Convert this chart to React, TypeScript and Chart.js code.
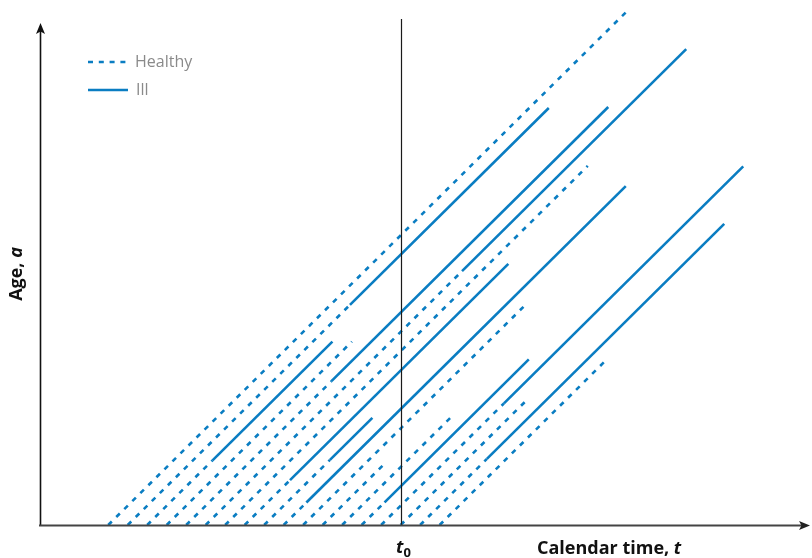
import React, { useEffect, useRef } from "react";
import { Chart, registerables } from "chart.js";

Chart.register(...registerables);

// Birth times (calendar time at age 0) of each life line
const births = [7, 9, 11, 13, 15, 17, 19, 21, 23, 25, 27, 29, 31, 33, 35, 37, 39, 41];
// Age at onset of illness (null = stayed healthy)
const onsetAges: (number | null)[] = [null, 22.8, 6.7, null, 14.9, 26.3, null, 4.65, 6.75, 2.33, null, null, null, 2.35, 12.6, null, 6.85, null];
// Age at end of follow-up
const endAges = [53.3, 43.2, 19.0, 19.0, 43.3, 49.3, 37.2, 27.05, 11.1, 35.1, 22.6, 6.45, 11.1, 17.15, 37.15, 13.05, 31.2, 16.95];

const t0Value = 37;
const xMin = 0;
const xMax = 79;
const yMin = 0;
const yMax = 52;

const legendLabels = ["Healthy", "Ill"];
const xTitleText = "Calendar time, ";
const xTitleVar = "t";
const yTitleText = "Age, ";
const yTitleVar = "a";
const t0Main = "t";
const t0Sub = "0";

const BLUE = "#0a7dc2";
const FONT = "'Open Sans', 'Noto Sans', sans-serif";

const DASH = [5, 6.3];

function buildDatasets() {
  const ds: any[] = [];
  births.forEach((b, i) => {
    const onset = onsetAges[i];
    const end = endAges[i];
    const healthyEnd = onset == null ? end : onset;
    ds.push({
      label: legendLabels[0],
      data: [
        { x: b, y: 0 },
        { x: b + healthyEnd, y: healthyEnd },
      ],
      borderColor: BLUE,
      borderWidth: 2.6,
      borderDash: DASH,
      borderCapStyle: "butt",
      showLine: true,
      pointRadius: 0,
      fill: false,
      clip: false,
    });
    if (onset != null) {
      ds.push({
        label: legendLabels[1],
        data: [
          { x: b + onset, y: onset },
          { x: b + end, y: end },
        ],
        borderColor: BLUE,
        borderWidth: 2.6,
        borderCapStyle: "butt",
        showLine: true,
        pointRadius: 0,
        fill: false,
        clip: false,
      });
    }
  });
  return ds;
}

const decorPlugin = {
  id: "decor",
  afterDatasetsDraw(chart: any) {
    const { ctx, chartArea: ca, scales } = chart;
    const xs = scales.x;
    ctx.save();

    // t0 vertical line
    const tx = Math.round(xs.getPixelForValue(t0Value)) + 0.5;
    ctx.strokeStyle = "#1a1a1a";
    ctx.lineWidth = 1.2;
    ctx.setLineDash([]);
    ctx.beginPath();
    ctx.moveTo(tx, ca.top - 4);
    ctx.lineTo(tx, ca.bottom);
    ctx.stroke();

    // y axis with arrow
    const ax = ca.left + 0.5;
    ctx.strokeStyle = "#111";
    ctx.fillStyle = "#111";
    ctx.lineWidth = 1.6;
    ctx.beginPath();
    ctx.moveTo(ax, ca.bottom);
    ctx.lineTo(ax, ca.top + 6);
    ctx.stroke();
    ctx.beginPath();
    ctx.moveTo(ax, ca.top);
    ctx.lineTo(ax - 4.5, ca.top + 11);
    ctx.lineTo(ax, ca.top + 8.5);
    ctx.lineTo(ax + 4.5, ca.top + 11);
    ctx.closePath();
    ctx.fill();

    // x axis with arrow
    const ay = ca.bottom + 0.5;
    ctx.strokeStyle = "#444";
    ctx.fillStyle = "#222";
    ctx.lineWidth = 2;
    ctx.beginPath();
    ctx.moveTo(ca.left - 1, ay);
    ctx.lineTo(ca.right - 6, ay);
    ctx.stroke();
    ctx.beginPath();
    ctx.moveTo(ca.right, ay);
    ctx.lineTo(ca.right - 11, ay - 4.5);
    ctx.lineTo(ca.right - 8.5, ay);
    ctx.lineTo(ca.right - 11, ay + 4.5);
    ctx.closePath();
    ctx.fill();

    // t0 label
    ctx.fillStyle = "#111";
    ctx.textBaseline = "alphabetic";
    ctx.font = `italic bold 18px ${FONT}`;
    ctx.textAlign = "right";
    ctx.fillText(t0Main, tx + 2, 553);
    ctx.font = `bold 13px ${FONT}`;
    ctx.textAlign = "left";
    ctx.fillText(t0Sub, tx + 2, 557);

    // x title
    ctx.textAlign = "left";
    ctx.font = `bold 18px ${FONT}`;
    const xt = 537;
    ctx.fillText(xTitleText, xt, 554);
    const w1 = ctx.measureText(xTitleText).width;
    ctx.font = `italic bold 18px ${FONT}`;
    ctx.fillText(xTitleVar, xt + w1, 554);

    // y title (rotated)
    ctx.save();
    ctx.translate(22, 274);
    ctx.rotate(-Math.PI / 2);
    ctx.font = `bold 18px ${FONT}`;
    const yw1 = ctx.measureText(yTitleText).width;
    ctx.font = `italic bold 18px ${FONT}`;
    const yw2 = ctx.measureText(yTitleVar).width;
    const total = yw1 + yw2;
    ctx.textAlign = "left";
    ctx.font = `bold 18px ${FONT}`;
    ctx.fillText(yTitleText, -total / 2, 0);
    ctx.font = `italic bold 18px ${FONT}`;
    ctx.fillText(yTitleVar, -total / 2 + yw1, 0);
    ctx.restore();

    // legend
    ctx.strokeStyle = BLUE;
    ctx.lineWidth = 2.7;
    ctx.lineCap = "butt";
    ctx.setLineDash([5, 5.8]);
    ctx.beginPath();
    ctx.moveTo(88, 62);
    ctx.lineTo(126, 62);
    ctx.stroke();
    ctx.setLineDash([]);
    ctx.beginPath();
    ctx.moveTo(88, 90);
    ctx.lineTo(128, 90);
    ctx.stroke();
    ctx.fillStyle = "#8a8a8a";
    ctx.font = `16px ${FONT}`;
    ctx.textAlign = "left";
    ctx.textBaseline = "middle";
    ctx.fillText(legendLabels[0], 135, 62);
    ctx.fillText(legendLabels[1], 136, 90);

    ctx.restore();
  },
};

export default function App() {
  const canvasRef = useRef<HTMLCanvasElement | null>(null);

  useEffect(() => {
    const canvas = canvasRef.current;
    if (!canvas) return;
    const chart = new Chart(canvas, {
      type: "scatter",
      data: { datasets: buildDatasets() },
      options: {
        animation: false,
        responsive: false,
        maintainAspectRatio: false,
        devicePixelRatio: 1,
        layout: { padding: { left: 40, right: 2, top: 23, bottom: 33 } },
        scales: {
          x: { type: "linear", min: xMin, max: xMax, display: false },
          y: { type: "linear", min: yMin, max: yMax, display: false },
        },
        plugins: {
          legend: { display: false },
          tooltip: { enabled: false },
        },
        elements: { point: { radius: 0 } },
      },
      plugins: [decorPlugin],
    } as any);
    return () => chart.destroy();
  }, []);

  return (
    <div style={{ position: "absolute", left: 0, top: 0, width: 812, height: 558, background: "#fff" }}>
      <canvas ref={canvasRef} width={812} height={558} style={{ display: "block", width: 812, height: 558 }} />
    </div>
  );
}
